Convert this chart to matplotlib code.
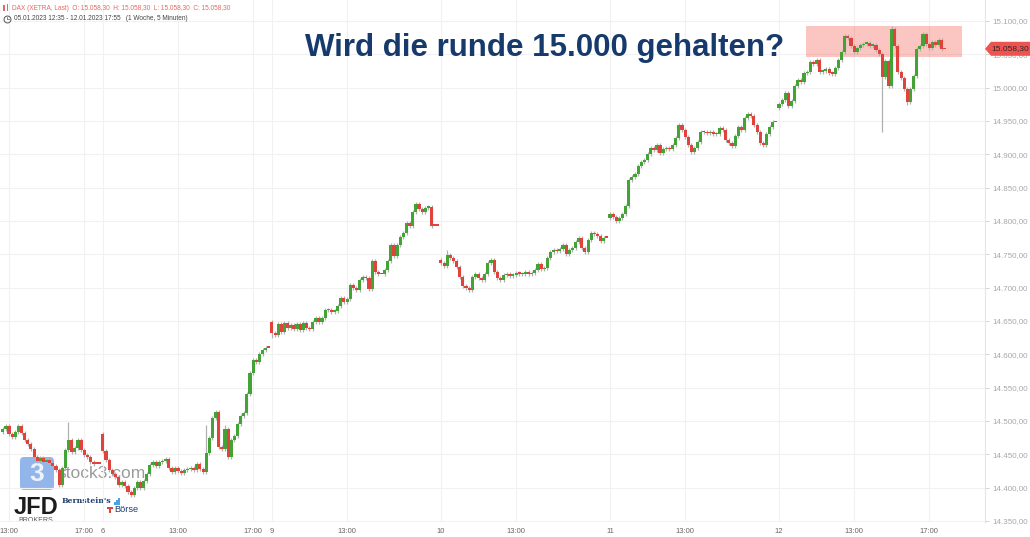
import matplotlib.pyplot as plt
from matplotlib.patches import FancyBboxPatch, Polygon, Rectangle
import numpy as np

# DAX 5-minute chart, re-sampled to 10-minute candles read off the picture
# x unit = trading hours, each day 09:00-18:00 takes 9 units
day_offset = [0, 9, 18, 27, 36, 45]
first_bar = [3 + 40 / 60, 0, 0, 0, 0, 0]   # Jan 5 starts in the afternoon
day_open = [14484, 14480, 14648, 14742, 14805, 14970]

closes_jan05 = [14488, 14492, 14480, 14476, 14484, 14493, 14482, 14472, 14466, 14458,
                14446, 14440, 14444, 14438, 14442, 14437, 14432, 14426, 14404, 14430,
                14456, 14472, 14453, 14460, 14471, 14456, 14449, 14446, 14438, 14436,
                14436, 14436]
closes_jan06 = [14455, 14441, 14426, 14420, 14416, 14404, 14408, 14402, 14393, 14389,
                14400, 14409, 14400, 14410, 14420, 14434, 14439, 14432, 14438, 14440,
                14443, 14429, 14423, 14429, 14425, 14422, 14426, 14428, 14429, 14427,
                14436, 14428, 14424, 14452, 14475, 14505, 14514, 14461, 14458, 14488,
                14446, 14472, 14478, 14496, 14508, 14512, 14540, 14572, 14591, 14588,
                14600, 14606, 14610, 14610]
closes_jan09 = [14632, 14629, 14646, 14634, 14647, 14640, 14644, 14638, 14646, 14636,
                14647, 14640, 14638, 14648, 14654, 14648, 14655, 14666, 14667, 14664,
                14665, 14672, 14685, 14678, 14683, 14704, 14700, 14697, 14712, 14716,
                14714, 14698, 14740, 14724, 14720, 14720, 14727, 14740, 14764, 14748,
                14764, 14776, 14782, 14797, 14792, 14813, 14826, 14818, 14814, 14820,
                14821, 14793, 14793, 14793]
closes_jan10 = [14737, 14732, 14749, 14745, 14740, 14731, 14716, 14703, 14699, 14697,
                14716, 14720, 14715, 14711, 14720, 14737, 14742, 14724, 14714, 14711,
                14719, 14720, 14718, 14719, 14722, 14721, 14720, 14723, 14720, 14722,
                14727, 14735, 14728, 14730, 14745, 14753, 14756, 14755, 14758, 14764,
                14750, 14757, 14760, 14768, 14774, 14760, 14754, 14772, 14782, 14780,
                14778, 14770, 14775, 14775]
closes_jan11 = [14810, 14806, 14800, 14805, 14811, 14822, 14862, 14866, 14870, 14882,
                14888, 14891, 14900, 14910, 14906, 14914, 14902, 14908, 14909, 14908,
                14914, 14924, 14944, 14936, 14926, 14914, 14903, 14910, 14918, 14934,
                14933, 14932, 14934, 14931, 14930, 14940, 14936, 14921, 14917, 14913,
                14928, 14941, 14936, 14954, 14960, 14958, 14944, 14934, 14917, 14914,
                14930, 14941, 14948, 14948]
closes_jan12 = [14976, 14982, 14992, 14972, 14980, 15002, 15012, 15008, 15022, 15024,
                15039, 15036, 15041, 15024, 15025, 15028, 15022, 15021, 15030, 15041,
                15054, 15078, 15074, 15062, 15054, 15059, 15064, 15066, 15067, 15063,
                15064, 15056, 15050, 15016, 15040, 15002, 15088, 15062, 15024, 15014,
                14998, 14978, 14998, 15018, 15058, 15062, 15080, 15066, 15060, 15068,
                15064, 15071, 15058.3, 15058.3]
all_closes = [closes_jan05, closes_jan06, closes_jan09, closes_jan10, closes_jan11, closes_jan12]

# long wicks: (day, bar) -> (high, low), None = normal wick
spikes = {(0, 21): (14498, None), (1, 0): (14483, None), (1, 33): (14494, None),
          (1, 39): (14494, None), (2, 0): (None, 14624), (3, 2): (14756, None),
          (5, 33): (None, 14933), (5, 36): (15093, None), (5, 41): (None, 14974)}

x_ticks = [4, 8, 9, 13, 17, 18, 22, 27, 31, 36, 40, 45, 49, 53]
x_labels = ['13:00', '17:00', '6', '13:00', '17:00', '9', '13:00', '10', '13:00',
            '11', '13:00', '12', '13:00', '17:00']
y_ticks = list(range(14350, 15101, 50))

last_price = 15058.30
zone_low, zone_high = 15046, 15092.5

GREEN = '#44a337'
RED = '#e0433b'


def de_fmt(v):
    return f"{v:,.2f}".replace(',', 'X').replace('.', ',').replace('X', '.')


xs, opens, closes, highs, lows = [], [], [], [], []
for d, cl in enumerate(all_closes):
    prev = day_open[d]
    for k, c in enumerate(cl):
        o = prev
        hi, lo = max(o, c), min(o, c)
        if o != c:
            hi += 3
            lo -= 3
        if (d, k) in spikes:
            sh, sl = spikes[(d, k)]
            hi = sh if sh is not None else hi
            lo = sl if sl is not None else lo
        xs.append(day_offset[d] + first_bar[d] + k / 6)
        opens.append(o)
        closes.append(c)
        highs.append(hi)
        lows.append(lo)
        prev = c
xs = np.array(xs)
opens = np.array(opens)
closes = np.array(closes)
highs = np.array(highs)
lows = np.array(lows)

fig = plt.figure(figsize=(10.30, 5.37), dpi=100)
fig.patch.set_facecolor('white')

# watermark layer (behind the candles)
under = fig.add_axes([0, 0, 1, 1], zorder=0)
under.set_xlim(0, 1030)
under.set_ylim(537, 0)
under.axis('off')
under.add_patch(FancyBboxPatch((20, 457), 34, 33, boxstyle='round,pad=0,rounding_size=4',
                               fc='#5a8fe0', ec='none', alpha=0.65))
under.text(37, 474, '3', color='white', size=19, weight='bold', ha='center', va='center',
           family='Liberation Sans', alpha=0.85)
under.text(57, 474, 'stock3.com', color='#7a7a7a', size=12.5, ha='left', va='center',
           family='Liberation Sans', alpha=0.75)
under.text(14, 507, 'JFD', color='#1c1c1c', size=17, ha='left', va='center',
           family='Liberation Sans', weight='bold')
under.text(36, 520.5, 'BROKERS', color='#555555', size=5, ha='center', va='center',
           family='Liberation Sans')
under.text(62, 501, "Bernstein's", color='#1f3d6d', size=5.6, ha='left', va='center',
           family='DejaVu Serif', weight='bold')
for i, h in enumerate([3, 5, 7]):
    under.add_patch(Rectangle((114 + i * 2.2, 505 - h), 1.5, h, fc='#4da3e0', ec='none'))
under.add_patch(Rectangle((107, 507), 6, 1.6, fc='#e0433b', ec='none'))
under.add_patch(Rectangle((109.2, 507), 1.6, 6, fc='#e0433b', ec='none'))
under.text(114, 510, 'Börse', color='#1f3d6d', size=6.6, ha='left', va='center',
           family='Liberation Sans')

# price chart
ax = fig.add_axes([0, 15 / 537, 985 / 1030, 522 / 537], zorder=1)
ax.set_facecolor('none')
ax.set_xlim(3.52, 55.97)
ax.set_ylim(14348.5, 15131.5)

ax.add_patch(Rectangle((46.44, zone_low), 8.3, zone_high - zone_low,
                       fc='#f44336', alpha=0.3, lw=0, zorder=1))

body_col = np.where(closes > opens, GREEN, RED)
flat = closes == opens
ax.vlines(xs[~flat], lows[~flat], highs[~flat], color='#b0b0b0', lw=0.9, zorder=2)
ax.bar(xs, np.maximum(np.abs(closes - opens), 1.8), bottom=np.minimum(opens, closes),
       width=0.165, color=body_col, lw=0, zorder=3)

ax.set_xticks(x_ticks)
ax.set_xticklabels(x_labels)
ax.set_yticks(y_ticks)
ax.set_yticklabels([de_fmt(v) for v in y_ticks])
ax.yaxis.tick_right()
ax.tick_params(axis='y', colors='#cccccc', labelcolor='#a8a8a8', labelsize=5.8,
               length=3, width=0.6, pad=2)
ax.tick_params(axis='x', length=0, labelcolor='#666666', labelsize=5.5, pad=4)
for lab in ax.get_xticklabels() + ax.get_yticklabels():
    lab.set_family('Liberation Sans')
for s in ['top', 'left', 'bottom']:
    ax.spines[s].set_visible(False)
ax.spines['right'].set_color('#e4e4e4')
ax.grid(True, color='#f1f1f1', lw=0.8)
ax.set_axisbelow(True)

# annotation layer
top = fig.add_axes([0, 0, 1, 1], zorder=5)
top.set_xlim(0, 1030)
top.set_ylim(537, 0)
top.axis('off')

top.text(545, 56, 'Wird die runde 15.000 gehalten?', family='Liberation Sans',
         weight='bold', size=22.5, color='#163a6b', ha='center', va='baseline')

tag_y = 21 + (15100 - last_price) / 1.5
top.add_patch(Polygon([(985, tag_y), (991, tag_y - 7), (1030, tag_y - 7),
                       (1030, tag_y + 7), (991, tag_y + 7)], closed=True,
                      fc='#ef5350', ec='none'))
top.text(1010, tag_y, de_fmt(last_price), color='#2a2a2a', size=6, ha='center',
         va='center', family='Liberation Sans')

# header
top.add_patch(Rectangle((3, 5), 1.5, 6, fc='#e8675f', ec='none'))
top.add_patch(Rectangle((6.5, 4), 1.5, 7, fc='#e8675f', ec='none'))
top.text(12.5, 8, 'DAX (XETRA, Last)  O: 15.058,30  H: 15.058,30  L: 15.058,30  C: 15.058,30',
         color='#e8675f', size=4.7, ha='left', va='center', family='Liberation Sans')
top.plot([7], [18.5], marker='o', ms=5, mfc='none', mec='#555555', mew=0.7)
top.plot([7, 7, 8.5], [16.5, 18.5, 18.5], color='#555555', lw=0.5)
top.text(14, 18.5, '05.01.2023 12:35 - 12.01.2023 17:55   (1 Woche, 5 Minuten)',
         color='#444444', size=4.7, ha='left', va='center', family='Liberation Sans')

fig.savefig('out.png', dpi=100, facecolor='white')
